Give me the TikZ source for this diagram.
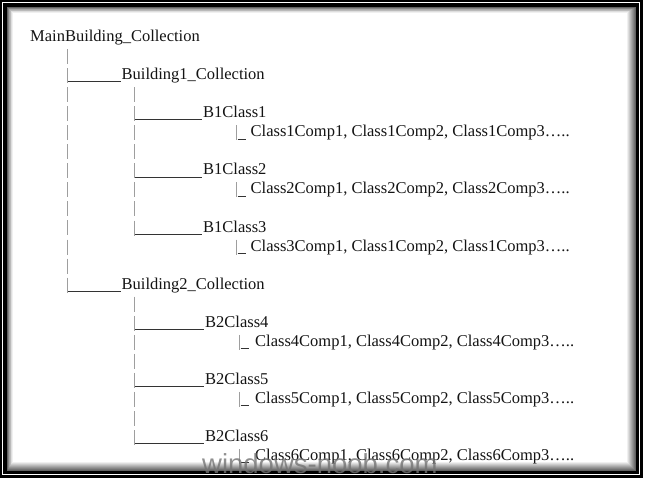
\documentclass[tikz,border=0pt]{standalone}
\usepackage{fontspec}
\setmainfont{Liberation Serif}
\newfontfamily\wmfont{Liberation Sans}
\begin{document}
\begin{tikzpicture}[x=1pt,y=-1pt,
  txt/.style={anchor=base west, inner sep=0pt, font=\fontsize{16.5}{19}\selectfont, text=black!92},
  bar/.style={draw=black!38, line width=1pt},
  dashbar/.style={bar, dash pattern=on 15pt off 4.05pt},
  under/.style={draw=black!80, line width=0.9pt},
  wm/.style={anchor=base west, inner sep=0pt, font=\wmfont\fontsize{27.5}{30}\selectfont, text=black!55, text opacity=0.8}]
% canvas
\fill[white] (0,0) rectangle (646,480);
\useasboundingbox (0,0) rectangle (646,480);
% frame
\fill[black] (0,0) rectangle (643,478);
\fill[white] (2,2.3) rectangle (639.7,474.6);
\fill[black] (3,3.3) rectangle (638.6,473.6);
\fill[white] (7,7) rectangle (635.5,470.5);
\foreach \i in {0,...,8}{
  \pgfmathtruncatemacro\c{62-7*\i}
  \pgfmathsetmacro\a{7.5+0.6*\i}
  \pgfmathsetmacro\b{0.5+\i}
  \draw[black!\c, line width=1pt] (\a,\a) rectangle (635.5-\b, 470.5-\b);
}
% text nodes
\node[txt] (main) at (30,41.5) {MainBuilding\_Collection};
\node[txt] (b1) at (121.5,79.6) {Building1\_Collection};
\node[txt] (c1) at (203,117.7) {B1Class1};
\node[txt] (l1) at (250.5,136.75) {Class1Comp1, Class1Comp2, Class1Comp3…..};
\node[txt] (c2) at (203,174.85) {B1Class2};
\node[txt] (l2) at (250.5,193.9) {Class2Comp1, Class2Comp2, Class2Comp3…..};
\node[txt] (c3) at (203,232.0) {B1Class3};
\node[txt] (l3) at (250.5,251.05) {Class3Comp1, Class1Comp2, Class1Comp3…..};
\node[txt] (b2) at (121.5,289.15) {Building2\_Collection};
\node[txt] (c4) at (205,327.25) {B2Class4};
\node[txt] (l4) at (255,346.3) {Class4Comp1, Class4Comp2, Class4Comp3…..};
\node[txt] (c5) at (205,384.4) {B2Class5};
\node[txt] (l5) at (255,403.45) {Class5Comp1, Class5Comp2, Class5Comp3…..};
\node[txt] (c6) at (205,441.55) {B2Class6};
\node[txt] (l6) at (255,460.6) {Class6Comp1, Class6Comp2, Class6Comp3…..};
% vertical connector columns
\coordinate (aTop) at (67.5,49);
\coordinate (aBot) at (67.5,292.65);
\coordinate (pTop) at (134,87.15);
\coordinate (pBot) at (134,235.5);
\coordinate (qTop) at (134,296.7);
\coordinate (qBot) at (134,445.05);
\draw[dashbar] (aTop) -- (aBot);
\draw[dashbar] (pTop) -- (pBot);
\draw[dashbar] (qTop) -- (qBot);
% horizontal connectors
\foreach \n in {b1,b2}{
  \draw[under] (aTop |- \n.base west) ++(0.5,2.2) -- ([xshift=-1pt,yshift=-2.2pt]\n.base west);
}
\foreach \n in {c1,c2,c3}{
  \draw[under] (pTop |- \n.base west) ++(1,2.2) -- ([xshift=-1pt,yshift=-2.2pt]\n.base west);
}
\foreach \n in {c4,c5,c6}{
  \draw[under] (qTop |- \n.base west) ++(1,2.2) -- ([xshift=-1pt,yshift=-2.2pt]\n.base west);
}
% leaf connectors
\foreach \n in {l1,l2,l3}{
  \draw[bar] ([xshift=-13.8pt,yshift=11.5pt]\n.base west) -- ++(0,15);
  \draw[under] ([xshift=-12.8pt,yshift=-2.2pt]\n.base west) -- ++(8.5,0);
}
\foreach \n in {l4,l5,l6}{
  \draw[bar] ([xshift=-15.5pt,yshift=11.5pt]\n.base west) -- ++(0,15);
  \draw[under] ([xshift=-14.5pt,yshift=-2.2pt]\n.base west) -- ++(8.5,0);
}
% watermark
\node[wm] (wmark) at (202,473) {windows-noob.com};
\end{tikzpicture}
\end{document}
